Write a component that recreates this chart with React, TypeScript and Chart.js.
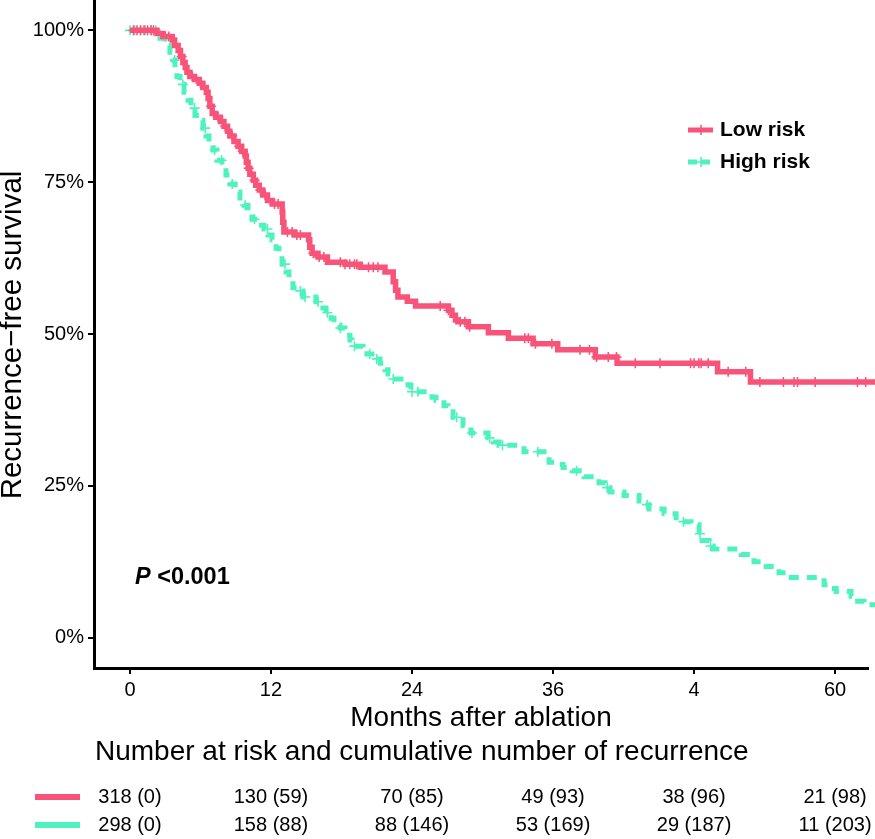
import React, { useEffect, useRef } from "react";
import { Chart, registerables } from "chart.js";

Chart.register(...registerables);

// ---------- data ----------
const seriesNames = ["Low risk", "High risk"];

const lowTime = [0, 2.3, 2.8, 3.6, 3.8, 4.1, 4.3, 4.5, 4.7, 4.85, 5.1, 5.5, 5.9, 6.2, 6.5, 6.65, 6.8, 7.0, 7.3, 7.7, 8.0, 8.3, 8.5, 8.85, 9.2, 9.5, 9.8, 9.9, 10.05, 10.2, 10.5, 10.7, 11.0, 11.3, 11.7, 12.1, 12.95, 13.0, 13.1, 14.0, 15.2, 15.3, 15.5, 16.0, 16.8, 18.3, 19.6, 21.7, 22.4, 22.6, 22.8, 23.6, 24.3, 27.1, 27.4, 27.7, 27.9, 28.8, 30.5, 32.2, 34.3, 36.4, 39.6, 41.45, 50.0, 52.8, 64];
const lowSurv = [100, 99.5, 99.0, 98.4, 97.5, 96.7, 95.7, 94.7, 93.9, 93.1, 92.4, 91.9, 91.3, 90.6, 89.8, 88.8, 87.5, 86.3, 85.7, 85.0, 84.2, 83.4, 82.6, 81.7, 80.9, 80.1, 79.3, 78.3, 77.3, 76.3, 75.3, 74.5, 73.7, 72.9, 72.0, 71.4, 70.1, 68.4, 66.8, 66.3, 65.5, 64.3, 63.3, 62.7, 61.8, 61.5, 61.0, 60.2, 58.6, 57.2, 56.1, 55.4, 54.6, 53.9, 53.1, 52.3, 52.0, 51.2, 50.2, 49.3, 48.4, 47.4, 46.2, 45.2, 43.8, 42.1, 42.1];

const highTime = [0, 2.55, 2.98, 3.4, 3.66, 3.83, 4.0, 4.26, 4.6, 4.94, 5.19, 5.53, 5.96, 6.21, 6.47, 6.72, 7.06, 7.4, 7.83, 8.17, 8.51, 8.94, 9.36, 9.7, 10.04, 10.38, 10.89, 11.4, 11.74, 12.09, 12.43, 12.68, 12.94, 13.28, 13.53, 13.87, 14.21, 14.72, 15.83, 16.17, 16.68, 17.11, 17.36, 17.87, 18.3, 18.72, 18.89, 19.83, 20.17, 20.94, 21.28, 21.7, 21.96, 22.38, 23.66, 23.91, 25.7, 26.04, 26.72, 27.06, 27.49, 28.34, 28.68, 29.02, 30.47, 30.89, 31.4, 33.11, 33.53, 35.23, 35.66, 36.51, 36.85, 37.62, 38.64, 39.91, 40.43, 40.85, 42.04, 43.32, 43.74, 44.17, 45.45, 46.47, 47.74, 48.43, 48.68, 49.28, 49.62, 52.0, 53.1, 54.13, 55.23, 55.57, 59.06, 59.49, 60.09, 61.36, 61.62, 62.47, 64];
const highSurv = [100, 98.7, 97.5, 96.4, 95.1, 93.8, 92.4, 91.1, 89.8, 88.5, 87.2, 86.0, 85.2, 83.9, 82.6, 81.1, 80.3, 78.6, 77.5, 76.2, 74.7, 73.4, 72.4, 71.2, 69.9, 68.9, 67.9, 67.3, 66.3, 65.5, 64.1, 62.8, 61.5, 60.2, 58.9, 57.6, 57.1, 56.1, 55.3, 54.3, 53.5, 52.6, 51.5, 51.0, 49.8, 49.0, 48.0, 47.4, 46.7, 45.9, 45.2, 44.1, 43.4, 42.6, 41.6, 40.5, 39.6, 39.1, 38.2, 37.2, 36.3, 34.9, 34.2, 33.7, 32.9, 32.2, 31.7, 31.1, 30.6, 29.8, 28.9, 28.5, 28.0, 27.5, 26.5, 25.5, 24.7, 24.0, 23.4, 22.5, 21.9, 21.2, 20.4, 19.1, 18.6, 17.1, 16.0, 15.1, 14.6, 13.7, 12.5, 11.7, 10.7, 9.9, 8.7, 8.1, 7.6, 6.8, 6.0, 5.4, 5.4];

const lowCensor = [0.3, 0.6, 0.9, 1.2, 1.5, 1.8, 2.0, 3.0, 3.3, 4.4, 5.3, 6.0, 6.9, 7.5, 8.1, 8.7, 9.3, 9.6, 10.1, 10.6, 11.1, 11.5, 12.3, 12.6, 13.4, 13.8, 14.2, 14.5, 15.6, 16.1, 16.5, 17.9, 18.3, 18.7, 19.1, 19.3, 20.3, 20.7, 21.1, 26.4, 27.1, 28.1, 28.5, 28.9, 33.6, 33.9, 34.5, 35.9, 38.3, 39.1, 39.7, 40.7, 41.4, 43.0, 45.1, 47.7, 48.0, 48.4, 48.6, 49.2, 50.9, 52.4, 53.6, 55.6, 56.5, 56.8, 58.3, 61.9, 62.6];
const highCensor = [0, 0.4, 0.9, 1.3, 1.8, 2.2, 3.8, 4.5, 5.5, 6.4, 7.2, 7.8, 8.7, 9.8, 10.6, 11.7, 13.2, 14.5, 14.9, 16.0, 16.8, 17.9, 19.1, 20.4, 21.0, 22.4, 24.0, 24.5, 27.8, 29.1, 30.6, 31.7, 34.7, 38.0, 40.6, 44.0, 47.1, 48.5, 49.4];

const xTicks = [0, 12, 24, 36, 48, 60];
const xTickLabels = ["0", "12", "24", "36", "4", "60"];
const yTicks = [0, 25, 50, 75, 100];
const yTickLabels = ["0%", "25%", "50%", "75%", "100%"];

const riskTimes = [0, 12, 24, 36, 48, 60];
const riskLow = ["318 (0)", "130 (59)", "70 (85)", "49 (93)", "38 (96)", "21 (98)"];
const riskHigh = ["298 (0)", "158 (88)", "88 (146)", "53 (169)", "29 (187)", "11 (203)"];

const pLabel = "P";
const pValueLabel = "<0.001";
const xTitle = "Months after ablation";
const yTitle = "Recurrence\u2212free survival";
const riskTitle = "Number at risk and cumulative number of recurrence";

// ---------- style ----------
const FONT = '"Liberation Sans", Arial, Helvetica, sans-serif';
const RED = "rgb(248,84,122)";
const GREEN = "rgb(78,242,191)";
const COLORS = [RED, GREEN];
const DASH = [10, 8];

function survAt(times: number[], surv: number[], t: number) {
  let v = surv[0];
  for (let i = 0; i < times.length; i++) {
    if (times[i] <= t) v = surv[i];
    else break;
  }
  return v;
}

const overlay = {
  id: "overlay",
  afterDraw(chart: any) {
    const ctx = chart.ctx as CanvasRenderingContext2D;
    const area = chart.chartArea;
    const xs = chart.scales.x;
    ctx.save();
    ctx.fillStyle = "#000";

    // axis titles
    ctx.textAlign = "center";
    ctx.textBaseline = "middle";
    ctx.font = `29.5px ${FONT}`;
    ctx.save();
    ctx.translate(13, 335);
    ctx.rotate(-Math.PI / 2);
    ctx.fillText(yTitle, 0, 0);
    ctx.restore();
    ctx.font = `28px ${FONT}`;
    ctx.fillText(xTitle, (area.left + area.right) / 2, 718);

    // risk table title
    ctx.textAlign = "left";
    ctx.fillText(riskTitle, 95, 752);

    // risk rows
    const rows = [riskLow, riskHigh];
    const rowY = [797, 825];
    rows.forEach((row, r) => {
      const y = rowY[r];
      ctx.strokeStyle = COLORS[r];
      ctx.lineWidth = 6;
      ctx.setLineDash([]);
      ctx.beginPath();
      ctx.moveTo(35, y);
      ctx.lineTo(80, y);
      ctx.stroke();
      ctx.fillStyle = "#000";
      ctx.font = `20px ${FONT}`;
      ctx.textAlign = "center";
      row.forEach((txt, i) => {
        ctx.fillText(txt, xs.getPixelForValue(riskTimes[i]), y);
      });
    });

    // legend
    const legY = [130, 162];
    seriesNames.forEach((name, r) => {
      const y = legY[r];
      ctx.strokeStyle = COLORS[r];
      ctx.lineWidth = 5;
      ctx.setLineDash(r === 0 ? [] : [9, 4]);
      ctx.beginPath();
      ctx.moveTo(688, y);
      ctx.lineTo(713, y);
      ctx.stroke();
      ctx.setLineDash([]);
      ctx.lineWidth = 1.6;
      ctx.beginPath();
      ctx.moveTo(696, y);
      ctx.lineTo(706, y);
      ctx.moveTo(701, y - 5);
      ctx.lineTo(701, y + 5);
      ctx.stroke();
      ctx.fillStyle = "#000";
      ctx.font = `bold 21px ${FONT}`;
      ctx.textAlign = "left";
      ctx.fillText(name, 720, y);
    });

    // p value
    ctx.font = `italic bold 23.5px ${FONT}`;
    ctx.textAlign = "left";
    ctx.fillText(pLabel, 135, 578);
    const pw = ctx.measureText(pLabel + " ").width;
    ctx.font = `bold 23.5px ${FONT}`;
    ctx.fillText(pValueLabel, 135 + pw, 578);

    ctx.restore();
  },
};

export default function App() {
  const ref = useRef<HTMLCanvasElement | null>(null);

  useEffect(() => {
    if (!ref.current) return;
    const clip = { left: 6, top: 6, right: 7, bottom: 6 };
    const chart = new Chart(ref.current, {
      type: "line",
      data: {
        datasets: [
          {
            label: seriesNames[0],
            data: lowTime.map((t, i) => ({ x: t, y: lowSurv[i] })),
            borderColor: RED,
            borderWidth: 5.5,
            stepped: "before",
            pointRadius: 0,
            fill: false,
            clip,
          },
          {
            label: seriesNames[1],
            data: highTime.map((t, i) => ({ x: t, y: highSurv[i] })),
            borderColor: GREEN,
            borderWidth: 5,
            borderDash: DASH,
            stepped: "before",
            pointRadius: 0,
            fill: false,
            clip,
          },
          {
            label: seriesNames[0] + " censored",
            data: lowCensor.map((t) => ({ x: t, y: survAt(lowTime, lowSurv, t) })),
            showLine: false,
            pointStyle: "cross",
            pointRadius: 5,
            pointBorderWidth: 1.6,
            pointBorderColor: RED,
            borderColor: RED,
            clip,
          },
          {
            label: seriesNames[1] + " censored",
            data: highCensor.map((t) => ({ x: t, y: survAt(highTime, highSurv, t) })),
            showLine: false,
            pointStyle: "cross",
            pointRadius: 5,
            pointBorderWidth: 1.6,
            pointBorderColor: GREEN,
            borderColor: GREEN,
            clip,
          },
        ] as any,
      },
      options: {
        animation: false,
        responsive: false,
        maintainAspectRatio: false,
        events: [],
        layout: { autoPadding: false, padding: { left: 0, right: 7, top: 0, bottom: 0 } },
        plugins: { legend: { display: false }, tooltip: { enabled: false } },
        scales: {
          x: {
            type: "linear",
            min: -3.06,
            max: 62.8,
            afterBuildTicks: (s: any) => {
              s.ticks = xTicks.map((v) => ({ value: v }));
            },
            afterFit: (s: any) => {
              s.height = 171;
              s.paddingLeft = 0;
              s.paddingRight = 0;
            },
            ticks: {
              autoSkip: false,
              maxRotation: 0,
              padding: 4,
              color: "#000",
              font: { family: FONT, size: 20 },
              callback: (_v: any, i: number) => xTickLabels[i],
            },
            grid: { drawOnChartArea: false, drawTicks: true, tickLength: 6, color: "#000", lineWidth: 2 },
            border: { display: true, color: "#000", width: 3 },
          },
          y: {
            type: "linear",
            min: -5,
            max: 105,
            afterBuildTicks: (s: any) => {
              s.ticks = yTicks.map((v) => ({ value: v }));
            },
            afterFit: (s: any) => {
              s.width = 94;
              s.paddingTop = 0;
              s.paddingBottom = 0;
            },
            ticks: {
              autoSkip: false,
              padding: 4,
              color: "#000",
              font: { family: FONT, size: 20 },
              callback: (_v: any, i: number) => yTickLabels[i],
            },
            grid: { drawOnChartArea: false, drawTicks: true, tickLength: 6, color: "#000", lineWidth: 2 },
            border: { display: true, color: "#000", width: 3 },
          },
        },
      } as any,
      plugins: [overlay],
    });
    return () => chart.destroy();
  }, []);

  return (
    <div style={{ position: "absolute", left: 0, top: 0, width: 875, height: 839, background: "#fff" }}>
      <canvas ref={ref} width={875} height={839} style={{ display: "block", width: 875, height: 839 }} />
    </div>
  );
}
